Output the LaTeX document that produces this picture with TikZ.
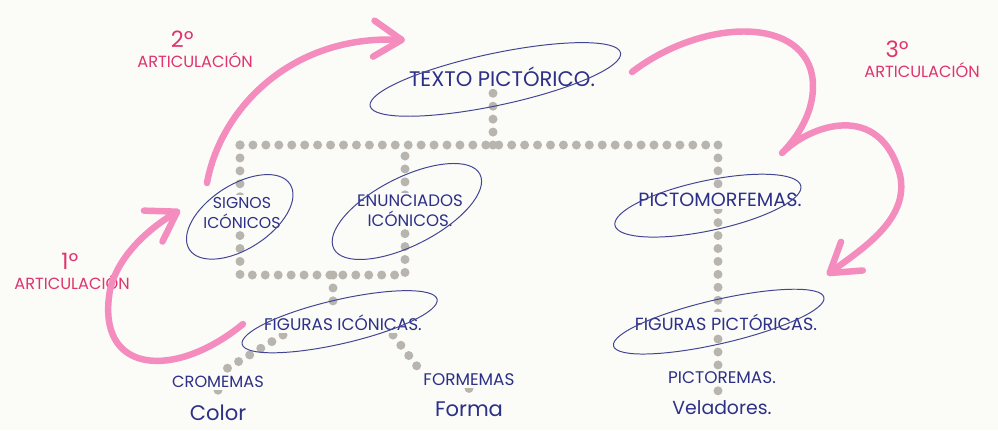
\documentclass[tikz,border=0pt]{standalone}
\usepackage{fontspec}
\setmainfont{Poppins}
\usetikzlibrary{positioning,arrows.meta}

\definecolor{paper}{HTML}{FBFBF8}
\definecolor{inkblue}{HTML}{2D3087}
\definecolor{dotgray}{HTML}{B8B4AE}
\definecolor{marker}{HTML}{F48CBE}
\definecolor{redpen}{HTML}{E0336F}

\pgfdeclarelayer{paper}
\pgfsetlayers{paper,main}

\begin{document}
\begin{tikzpicture}[
    x=0.025cm, y=-0.025cm,
    ink/.style={text=inkblue, fill=paper, inner sep=1.5pt, align=center, font=\fontsize{12}{14}\selectfont},
    oval/.style={draw=inkblue!90, line width=0.7pt},
    dotline/.style={draw=dotgray, line width=6.4pt, line cap=round, dash pattern=on 0pt off 9.2pt},
    redlabel/.style={text=redpen, inner sep=1pt, font=\fontsize{11.5}{12}\selectfont},
    ordinal/.style={text=redpen, inner sep=1pt, font=\fontsize{16}{16}\selectfont},
    marker/.style={draw=marker, line width=4.6pt, line cap=round, line join=round,
      -{Straight Barb[length=7mm, width=9mm, round]}},
  ]
  \begin{pgfonlayer}{paper}
    \fill[paper] (0,0) rectangle (998,430);
  \end{pgfonlayer}
  \useasboundingbox (0,0) rectangle (998,430);

  % levels
  \node[ink, font=\fontsize{15}{16}\selectfont] (tp) at (502,77) {TEXTO PICTÓRICO.};
  \node[ink, font=\fontsize{11.2}{14}\selectfont] (si) at (242,213) {SIGNOS\\ICÓNICOS};
  \node[ink, font=\fontsize{11.8}{14}\selectfont] (en) at (410,211) {ENUNCIADOS\\ICÓNICOS.};
  \node[ink, font=\fontsize{13.6}{14}\selectfont] (pm) at (720,200) {PICTOMORFEMAS.};
  \node[ink] (fi) at (343,323) {FIGURAS ICÓNICAS.};
  \node[ink, font=\fontsize{12.5}{14}\selectfont] (fp) at (726,322) {FIGURAS PICTÓRICAS.};
  \node[ink, font=\fontsize{11.5}{14}\selectfont] (cr) at (218,382) {CROMEMAS};
  \node[ink] (fo) at (469,380) {FORMEMAS};
  \node[ink] (pr) at (722,378) {PICTOREMAS.};
  \node[ink, font=\fontsize{15}{16}\selectfont, below=0.3cm of cr] (co) {Color};
  \node[ink, font=\fontsize{15}{16}\selectfont, below=0.28cm of fo] (fa) {Forma};
  \node[ink, font=\fontsize{13.4}{16}\selectfont, below=0.3cm of pr] (va) {Veladores.};

  % hand drawn rings
  \draw[oval, shift={(tp.center)}, rotate=12] (-7,1) ellipse [x radius=128, y radius=26];
  \draw[oval, shift={(si.center)}, rotate=33] (-4,2) ellipse [x radius=60, y radius=32];
  \draw[oval, shift={(en.center)}, rotate=27] (-3,-1) ellipse [x radius=82, y radius=34];
  \draw[oval, shift={(pm.center)}, rotate=12] (-13,3) ellipse [x radius=95, y radius=25];
  \draw[oval, shift={(fi.center)}, rotate=13] (-3,-2) ellipse [x radius=100, y radius=22];
  \draw[oval, shift={(fp.center)}, rotate=13] (-7,-2) ellipse [x radius=108, y radius=22];

  % dotted tree
  \coordinate (busL) at (240,145);
  \coordinate (busT) at (493,145);
  \coordinate (busR) at (718,145);
  \coordinate (lowL) at (240,275);
  \coordinate (lowM) at (333,275);
  \coordinate (lowR) at (405,275);
  \begin{pgfonlayer}{paper}
    \draw[dotline] (busL) -- (busR);
    \draw[dotline] (busT) -- (busT |- tp.south);
    \draw[dotline] (busL) -- (lowL) -- (lowR) -- (lowR |- busL);
    \draw[dotline] (busR) -- (busR |- va.north);
    \draw[dotline] (lowM) -- (lowM |- fi.north);
    \draw[dotline] ([shift={(-60,12)}]fi.center) -- (cr.north);
    \draw[dotline] ([shift={(50,12)}]fi.center) -- (fo.north west);
    \draw[dotline] (cr) -- (co);
    \draw[dotline] (fo) -- (fa);
  \end{pgfonlayer}

  % articulations
  \node[redlabel] (art1) at (72,282) {ARTICULACIÓN};
  \node[ordinal, above=1pt of art1, xshift=-0.05cm] (num1) {1º};
  \node[redlabel] (art2) at (195,60) {ARTICULACIÓN};
  \node[ordinal, above=1pt of art2, xshift=-0.32cm] (num2) {2º};
  \node[redlabel] (art3) at (922,70) {ARTICULACIÓN};
  \node[ordinal, above=1pt of art3, xshift=-0.62cm] (num3) {3º};

  \draw[marker] ([shift={(-100,1)}]fi.center) .. controls (175,380) and (95,375) .. (110,290)
    .. controls (118,255) and (150,228) .. ([shift={(-62,-3)}]si.center);
  \draw[marker] ([shift={(-35,-30)}]si.center) .. controls (220,110) and (290,35) .. ([shift={(-97,-37)}]tp.center);
  \draw[marker] ([shift={(130,-5)}]tp.center) .. controls (700,20) and (800,15) .. (812,75)
    .. controls (818,110) and (795,140) .. (782,153)
    .. controls (810,125) and (880,100) .. (900,175)
    .. controls (910,220) and (860,250) .. ([shift={(101,-47)}]fp.center);
\end{tikzpicture}
\end{document}
